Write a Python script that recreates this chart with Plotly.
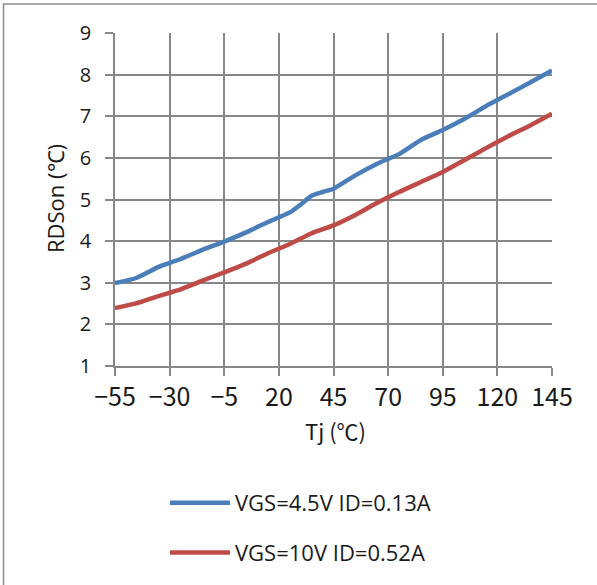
import plotly.graph_objects as go

# Data
tj = [-55, -45, -35, -25, -15, -5, 5, 15, 25, 30, 35, 40, 45, 55, 65, 75, 85, 95, 105, 115, 125, 135, 145]
rds_45v = [2.99, 3.12, 3.38, 3.57, 3.79, 3.99, 4.21, 4.46, 4.69, 4.88, 5.09, 5.18, 5.26,
           5.58, 5.86, 6.09, 6.43, 6.67, 6.94, 7.25, 7.53, 7.81, 8.10]
tj_red = [-55, -45, -35, -25, -15, -5, 5, 15, 25, 35, 45, 55, 65, 75, 85, 95, 105, 115, 125, 135, 145]
rds_10v = [2.39, 2.51, 2.68, 2.84, 3.05, 3.25, 3.46, 3.71, 3.93, 4.19, 4.38, 4.63, 4.92,
           5.18, 5.42, 5.66, 5.95, 6.24, 6.52, 6.78, 7.06]
x_ticks = [-55, -30, -5, 20, 45, 70, 95, 120, 145]
y_ticks = [1, 2, 3, 4, 5, 6, 7, 8, 9]
names = ["VGS=4.5V ID=0.13A", "VGS=10V ID=0.52A"]
x_title = "Tj (℃)"
y_title = "RDSon (℃)"

W, H = 597, 585
L, R, T, B = 115, 45, 33, 219

fig = go.Figure()
fig.add_trace(go.Scatter(x=tj, y=rds_45v, mode="lines", name=names[0], legendgroup="a",
                         line=dict(color="#4a7ebb", width=4.5, shape="spline", smoothing=0.6)))
fig.add_trace(go.Scatter(x=tj_red, y=rds_10v, mode="lines", name=names[1], legendgroup="b",
                         line=dict(color="#be4b48", width=4.5, shape="spline", smoothing=0.6)))

grid = "#878787"
txt = "#1a1a1a"
fig.update_xaxes(range=[-55, 145], tickvals=x_ticks, showgrid=True, gridcolor=grid, gridwidth=1.5,
                 zeroline=False, showline=True, linecolor=grid, linewidth=1.5,
                 ticks="outside", ticklen=8, tickcolor=grid, tickwidth=1.5,
                 tickfont=dict(family="Noto Sans CJK KR", size=25, color=txt),
                 ticklabelstandoff=0)
fig.update_yaxes(range=[1, 9], tickvals=y_ticks, showgrid=True, gridcolor=grid, gridwidth=1.5,
                 zeroline=False, showline=True, linecolor=grid, linewidth=1.5,
                 ticks="outside", ticklen=8, tickcolor=grid, tickwidth=1.5,
                 tickfont=dict(family="Open Sans", size=20, color=txt),
                 ticklabelstandoff=10)

def px_x(p):
    return (p - L) / (W - L - R)

def px_y(p):
    return (H - B - p) / (H - T - B)

# outer chart border (only left and top edges are visible in the reference)
fig.add_shape(type="rect", xref="paper", yref="paper",
              x0=px_x(3.5), x1=px_x(800), y0=px_y(800), y1=px_y(4),
              line=dict(color="#8c8c8c", width=1.5), fillcolor="rgba(0,0,0,0)", layer="above")

fig.add_annotation(text=x_title, xref="paper", yref="paper", x=px_x(335), y=px_y(430),
                   showarrow=False, xanchor="center", yanchor="middle",
                   font=dict(family="Noto Sans CJK KR", size=22, color=txt))
fig.add_annotation(text=y_title, xref="paper", yref="paper", x=px_x(55), y=px_y(199),
                   showarrow=False, xanchor="center", yanchor="middle", textangle=-90,
                   font=dict(family="Open Sans", size=22, color=txt))

fig.update_layout(
    width=W, height=H,
    margin=dict(l=L, r=R, t=T, b=B, autoexpand=False),
    paper_bgcolor="white", plot_bgcolor="white",
    font=dict(family="Open Sans", color=txt),
    showlegend=True,
    legend=dict(xref="container", yref="container", x=165 / W, y=1 - 482 / H,
                xanchor="left", yanchor="top", orientation="v",
                font=dict(family="Open Sans", size=22, color=txt),
                tracegroupgap=18, itemwidth=60, bgcolor="rgba(0,0,0,0)"),
)

fig.write_html("out.html")
